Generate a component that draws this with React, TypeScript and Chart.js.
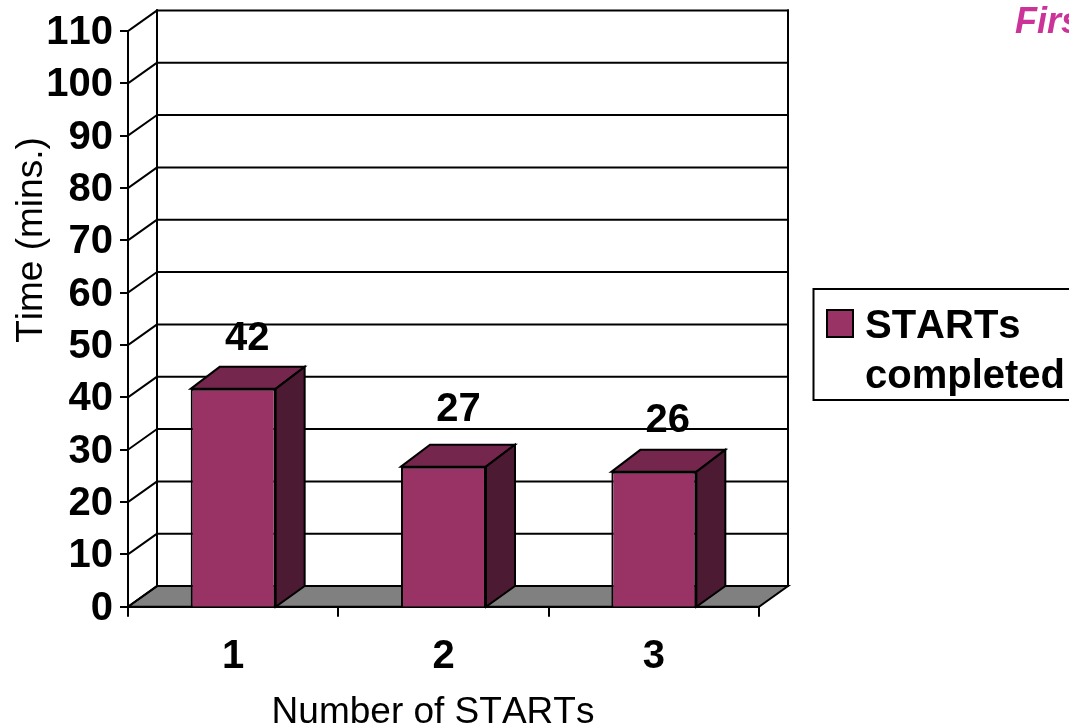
import React, { useEffect, useRef } from "react";
import { Chart, registerables } from "chart.js";

Chart.register(...registerables);

const categories = ["1", "2", "3"];
const startsCompleted = [42, 27, 26];
const seriesName = "STARTs completed";
const legendLines = ["STARTs", "completed"];
const yTitle = "Time (mins.)";
const xTitle = "Number of STARTs";
const clippedTitle = "First";

const FONT = "'Liberation Sans', Arial, sans-serif";
const LINE = 2;
const DEPTH_X = 29;
const FLOOR_DY = 20.6;
const BAR_TOP_DY = 22;
const LABEL_NUDGE = [
  [14, -50],
  [15, -57],
  [14, -51],
];

const scene3d = {
  id: "scene3d",
  beforeDraw(chart: any) {
    (chart.ctx as any).fontKerning = "none";
  },
  beforeDatasetsDraw(chart: any) {
    const { ctx, chartArea, scales } = chart;
    const { left, right, top, bottom } = chartArea;
    ctx.save();
    ctx.strokeStyle = "#000";
    ctx.lineWidth = LINE;
    ctx.lineCap = "square";
    const line = (x1: number, y1: number, x2: number, y2: number) => {
      ctx.beginPath();
      ctx.moveTo(x1, y1);
      ctx.lineTo(x2, y2);
      ctx.stroke();
    };
    // floor
    ctx.fillStyle = "#808080";
    ctx.beginPath();
    ctx.moveTo(left, bottom);
    ctx.lineTo(left + DEPTH_X, bottom - FLOOR_DY);
    ctx.lineTo(right + DEPTH_X, bottom - FLOOR_DY);
    ctx.lineTo(right, bottom);
    ctx.closePath();
    ctx.fill();
    ctx.stroke();
    // walls and gridlines
    for (const t of scales.y.ticks) {
      const y = scales.y.getPixelForValue(t.value);
      line(left, y, left + DEPTH_X, y - FLOOR_DY);
      line(left + DEPTH_X, y - FLOOR_DY, right + DEPTH_X, y - FLOOR_DY);
    }
    line(left, top, left, bottom);
    line(left + DEPTH_X, top - FLOOR_DY, left + DEPTH_X, bottom - FLOOR_DY);
    line(right + DEPTH_X, top - FLOOR_DY, right + DEPTH_X, bottom - FLOOR_DY);
    ctx.restore();
  },
  afterDatasetsDraw(chart: any) {
    const { ctx } = chart;
    const bars = chart.getDatasetMeta(0).data;
    ctx.save();
    ctx.strokeStyle = "#000";
    ctx.lineWidth = LINE;
    ctx.lineJoin = "miter";
    bars.forEach((bar: any, i: number) => {
      const { x, y, base, width } = bar.getProps(["x", "y", "base", "width"], true);
      const l = x - width / 2;
      const r = x + width / 2;
      ctx.fillStyle = "#74264C";
      ctx.beginPath();
      ctx.moveTo(l, y);
      ctx.lineTo(l + DEPTH_X, y - BAR_TOP_DY);
      ctx.lineTo(r + DEPTH_X, y - BAR_TOP_DY);
      ctx.lineTo(r, y);
      ctx.closePath();
      ctx.fill();
      ctx.stroke();
      ctx.fillStyle = "#4D1A33";
      ctx.beginPath();
      ctx.moveTo(r, y);
      ctx.lineTo(r + DEPTH_X, y - BAR_TOP_DY);
      ctx.lineTo(r + DEPTH_X, base - FLOOR_DY);
      ctx.lineTo(r, base);
      ctx.closePath();
      ctx.fill();
      ctx.stroke();
      ctx.fillStyle = "#000";
      ctx.font = `bold 40px ${FONT}`;
      ctx.textAlign = "center";
      ctx.textBaseline = "middle";
      ctx.fillText(
        String(startsCompleted[i]),
        x + LABEL_NUDGE[i][0],
        y + LABEL_NUDGE[i][1]
      );
    });
    ctx.restore();
  },
  afterDraw(chart: any) {
    const { ctx } = chart;
    ctx.save();
    ctx.textBaseline = "alphabetic";
    ctx.textAlign = "left";
    // legend
    ctx.strokeStyle = "#000";
    ctx.lineWidth = LINE;
    ctx.strokeRect(813.5, 289, 300, 111);
    ctx.fillStyle = "#993366";
    ctx.fillRect(827, 310, 26, 27);
    ctx.strokeRect(827, 310, 26, 27);
    ctx.fillStyle = "#000";
    ctx.font = `bold 40px ${FONT}`;
    legendLines.forEach((s, i) => ctx.fillText(s, 865, 338 + i * 50));
    // clipped title
    ctx.fillStyle = "#CC3399";
    ctx.font = `italic bold 36px ${FONT}`;
    ctx.fillText(clippedTitle, 1015, 33);
    // axis titles
    ctx.fillStyle = "#000";
    ctx.font = `37px ${FONT}`;
    ctx.textAlign = "center";
    ctx.fillText(xTitle, 433, 723);
    ctx.save();
    ctx.translate(42, 240);
    ctx.rotate(-Math.PI / 2);
    ctx.fillText(yTitle, 0, 0);
    ctx.restore();
    ctx.restore();
  },
};

export default function App() {
  const ref = useRef<HTMLCanvasElement>(null);
  useEffect(() => {
    const chart = new Chart(ref.current!, {
      type: "bar",
      data: {
        labels: categories,
        datasets: [
          {
            label: seriesName,
            data: startsCompleted,
            backgroundColor: "#993366",
            borderColor: "#000",
            borderWidth: LINE,
            barPercentage: 0.404,
            categoryPercentage: 1,
            yAxisID: "bars",
          },
        ],
      },
      options: {
        responsive: false,
        animation: false,
        layout: { padding: { top: 30.6, right: 310, left: 0, bottom: 0 } },
        plugins: {
          legend: { display: false },
          title: { display: false },
          tooltip: { enabled: false },
        },
        scales: {
          x: {
            afterFit: (s: any) => {
              s.height = 118.3;
            },
            border: { color: "#000", width: LINE },
            grid: {
              offset: true,
              drawOnChartArea: false,
              drawTicks: true,
              tickLength: 10,
              color: "#000",
              lineWidth: LINE,
            },
            ticks: {
              color: "#000",
              font: { family: FONT, size: 40, weight: "bold" },
              padding: 16,
              maxRotation: 0,
            },
          },
          y: {
            min: 0,
            max: 110,
            afterFit: (s: any) => {
              s.width = 128;
            },
            border: { color: "#000", width: LINE },
            grid: {
              drawOnChartArea: false,
              tickLength: 8,
              color: "#000",
              lineWidth: LINE,
            },
            ticks: {
              stepSize: 10,
              color: "#000",
              font: { family: FONT, size: 40, weight: "bold" },
              padding: 7,
              labelOffset: 2,
              autoSkip: false,
            },
          },
          bars: {
            display: false,
            position: "left",
            min: 0,
            max: 111,
          },
        },
      },
      plugins: [scene3d],
    } as any);
    return () => chart.destroy();
  }, []);
  return (
    <div style={{ position: "absolute", left: 0, top: 0, width: 1069, height: 725, overflow: "hidden", background: "#fff" }}>
      <canvas ref={ref} width={1069} height={725} style={{ display: "block" }} />
    </div>
  );
}
